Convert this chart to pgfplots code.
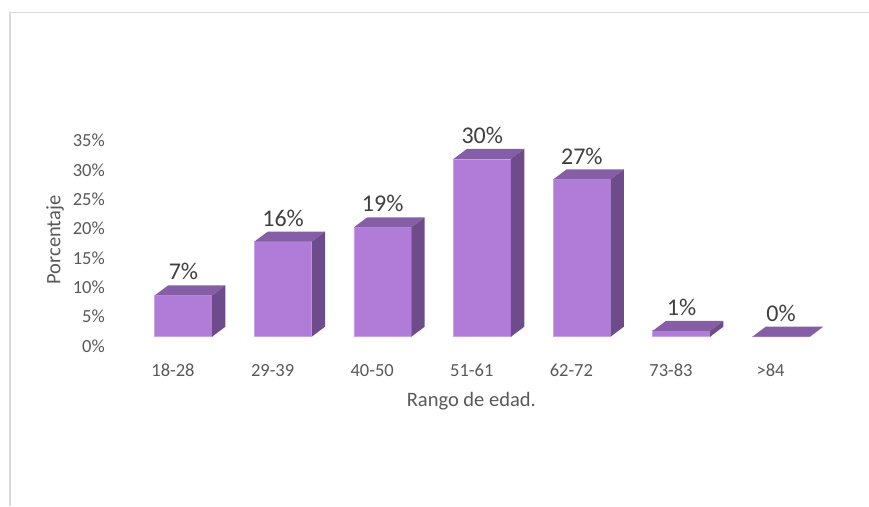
\documentclass[border=0pt]{standalone}
\usepackage{fontspec}
\setmainfont{Carlito}
\usepackage{pgfplots}
\usepackage{pgfplotstable}
\pgfplotsset{compat=1.18}
\definecolor{frontcol}{RGB}{176,124,216}
\definecolor{edgecol}{RGB}{198,162,230}
\definecolor{topcol}{RGB}{133,94,166}
\definecolor{sidecol}{RGB}{110,76,140}
\definecolor{tickgray}{RGB}{89,89,89}
\definecolor{labgray}{RGB}{64,64,64}
\definecolor{bordergray}{RGB}{217,217,217}

\pgfplotstableread{
x y
0 7.04
1 16.2
2 18.65
3 30.3
4 26.8
5 1.0
6 0.0
}\datatable

% top and side faces of a 3D bar, drawn at the top-front-centre of each bar
\pgfdeclareplotmark{box3d}{%
  \pgfmathsetlengthmacro{\hh}{\barval*5.866}%
  \pgfpathmoveto{\pgfpoint{-28.7pt}{0pt}}%
  \pgfpathlineto{\pgfpoint{28.7pt}{0pt}}%
  \pgfpathlineto{\pgfpoint{42pt}{10pt}}%
  \pgfpathlineto{\pgfpoint{-15.4pt}{10pt}}%
  \pgfpathclose
  \pgfsetfillcolor{topcol}%
  \pgfusepathqfill
  \pgfpathmoveto{\pgfpoint{28.7pt}{0pt}}%
  \pgfpathlineto{\pgfpoint{42pt}{10pt}}%
  \pgfpathlineto{\pgfpoint{42pt}{10pt-\hh}}%
  \pgfpathlineto{\pgfpoint{28.7pt}{-\hh}}%
  \pgfpathclose
  \pgfsetfillcolor{sidecol}%
  \pgfusepathqfill
}

\begin{document}
\begin{tikzpicture}
\path[use as bounding box] (0pt,0pt) rectangle (869pt,506pt);
\draw[bordergray, line width=1.5pt] (10pt,0pt) -- (10pt,493.3pt) -- (869pt,493.3pt);
\begin{axis}[
  at={(105pt,157.6pt)}, anchor=south west,
  x=99.6pt, y=5.866pt,
  xmin=-0.788, xmax=6.8, ymin=-2, ymax=36,
  clip=false,
  axis line style={draw=none},
  tick style={draw=none}, major tick length=0pt,
  /pgf/number format/assume math mode=true,
  xtick={0,1,2,3,4,5,6},
  xticklabels={18-28,29-39,40-50,51-61,62-72,73-83,>84},
  ytick={0,5,10,15,20,25,30,35},
  yticklabel={\pgfmathprintnumber{\tick}\%},
  yticklabel style={font=\fontsize{18.5}{22}\selectfont, text=tickgray, anchor=east, inner sep=0pt, yshift=-9.3pt},
  xticklabel style={font=\fontsize{18.5}{22}\selectfont, text=tickgray, anchor=center, inner sep=0pt, xshift=-10.5pt, yshift=-22.3pt},
  xlabel={Rango de edad.},
  xlabel style={at={(axis description cs:0.4847,-0.2346)}, anchor=center, inner sep=0pt, font=\fontsize{20.5}{24}\selectfont, text=tickgray},
  ylabel={Porcentaje},
  ylabel style={at={(axis description cs:-0.06615,0.4863)}, anchor=center, inner sep=0pt, font=\fontsize{20.5}{24}\selectfont, text=tickgray},
]
\addplot[ybar, bar width=57.4pt, bar shift=0pt, fill=frontcol, draw=edgecol, line width=0.8pt,
  nodes near coords={\pgfmathprintnumber[fixed,precision=0]{\pgfplotspointmeta}\%},
  nodes near coords align={center},
  every node near coord/.append style={font=\fontsize{24}{28}\selectfont, text=labgray, anchor=center, inner sep=0pt, yshift=23.5pt},
] table[x=x, y=y] {\datatable};
\addplot[scatter, only marks, mark=box3d,
  visualization depends on={\thisrow{y} \as \barval},
] table[x=x, y=y] {\datatable};
\end{axis}
\end{tikzpicture}
\end{document}
